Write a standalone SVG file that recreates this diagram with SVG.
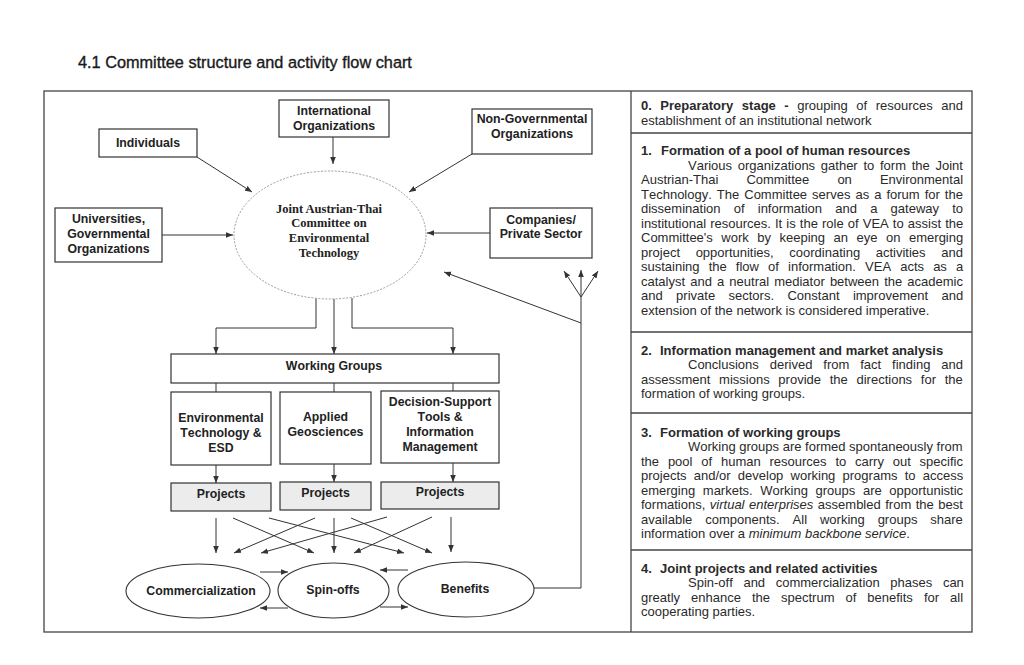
<svg xmlns="http://www.w3.org/2000/svg" width="1024" height="665" viewBox="0 0 1024 665">
<style>
.t{font-family:"Liberation Sans",Arial,sans-serif;fill:#1a1a1a;font-kerning:none}
.nb{font-family:"Liberation Sans",Arial,sans-serif;font-weight:bold;font-size:12.3px;fill:#222;text-anchor:middle;font-kerning:none}
.sr{font-family:"Liberation Serif","Times New Roman",serif;font-weight:bold;font-size:12.5px;fill:#222;text-anchor:middle}
.p{font-family:"Liberation Sans",Arial,sans-serif;font-size:13px;fill:#2a2a2a;font-kerning:none}
.h{font-weight:bold}
.box{fill:#fff;stroke:#333;stroke-width:1.2}
.proj{fill:#ececec;stroke:#333;stroke-width:1.2}
.ell{fill:#fff;stroke:#333;stroke-width:1.1}
.frame{fill:none;stroke:#444;stroke-width:1.3}
.c{fill:none;stroke:#333;stroke-width:1}
.ca{fill:none;stroke:#333;stroke-width:1;marker-end:url(#ah)}
</style>
<defs>
<marker id="ah" viewBox="0 0 10 10" refX="10" refY="5" markerWidth="7" markerHeight="7" markerUnits="userSpaceOnUse" orient="auto">
<path d="M0,1 L10,5 L0,9 z" fill="#333"/>
</marker>
</defs>
<rect width="1024" height="665" fill="#fff"/>
<text class="t" x="78" y="68" font-size="16.3" stroke="#1a1a1a" stroke-width="0.35">4.1 Committee structure and activity flow chart</text>

<g id="frame">
<rect class="frame" x="44" y="91" width="928" height="541"/>
<line class="frame" x1="631" y1="91" x2="631" y2="632"/>
<line class="frame" x1="631" y1="133" x2="972" y2="133"/>
<line class="frame" x1="631" y1="332" x2="972" y2="332"/>
<line class="frame" x1="631" y1="413" x2="972" y2="413"/>
<line class="frame" x1="631" y1="550" x2="972" y2="550"/>
</g>

<g id="connectors">
<line class="ca" x1="197" y1="157" x2="252" y2="192"/>
<line class="ca" x1="333" y1="137" x2="333" y2="164"/>
<line class="ca" x1="472" y1="154" x2="409" y2="192"/>
<line class="ca" x1="162" y1="235" x2="233" y2="235"/>
<line class="ca" x1="490" y1="233" x2="427" y2="233"/>
<line class="ca" x1="581" y1="323" x2="444" y2="272"/>
<polyline class="c" points="534,588 581,588 581,297"/>
<line class="ca" x1="581" y1="297" x2="564" y2="271"/>
<line class="ca" x1="581" y1="297" x2="581" y2="270"/>
<line class="ca" x1="581" y1="297" x2="598" y2="271"/>
<polyline class="ca" points="316,298 316,328 216,328 216,354"/>
<line class="ca" x1="334" y1="299" x2="334" y2="354"/>
<polyline class="ca" points="352,298 352,328 453,328 453,354"/>
<line class="c" x1="216" y1="383" x2="216" y2="392"/>
<line class="c" x1="334" y1="383" x2="334" y2="392"/>
<line class="c" x1="453" y1="383" x2="453" y2="392"/>
<line class="ca" x1="216" y1="465" x2="216" y2="483"/>
<line class="ca" x1="334" y1="464" x2="334" y2="482"/>
<line class="ca" x1="453" y1="463" x2="453" y2="482"/>
<line class="ca" x1="216" y1="518" x2="216" y2="553"/>
<line class="ca" x1="233" y1="518" x2="314" y2="553"/>
<line class="ca" x1="269" y1="518" x2="404" y2="553"/>
<line class="ca" x1="315" y1="518" x2="234" y2="553"/>
<line class="ca" x1="334" y1="518" x2="334" y2="553"/>
<line class="ca" x1="387" y1="517" x2="261" y2="553"/>
<line class="ca" x1="432" y1="517" x2="354" y2="553"/>
<line class="ca" x1="351" y1="518" x2="432" y2="553"/>
<line class="ca" x1="451" y1="517" x2="451" y2="552"/>
<line class="ca" x1="260" y1="572" x2="288" y2="572"/>
<line class="ca" x1="288" y1="608" x2="260" y2="608"/>
<line class="ca" x1="408" y1="570" x2="380" y2="570"/>
<line class="ca" x1="380" y1="607" x2="408" y2="607"/>
</g>

<g id="individuals">
<rect class="box" x="99" y="129" width="98" height="28"/>
<text class="nb" x="148" y="147">Individuals</text>
</g>
<g id="international">
<rect class="box" x="279" y="100" width="110" height="37"/>
<text class="nb" x="334" y="114.5">International</text>
<text class="nb" x="334" y="129.5">Organizations</text>
</g>
<g id="ngo">
<rect class="box" x="472" y="109" width="120" height="45"/>
<text class="nb" x="532" y="122.7">Non-Governmental</text>
<text class="nb" x="532" y="137.7">Organizations</text>
</g>
<g id="universities">
<rect class="box" x="55" y="208" width="107" height="54"/>
<text class="nb" x="108.5" y="222.5">Universities,</text>
<text class="nb" x="108.5" y="237.5">Governmental</text>
<text class="nb" x="108.5" y="252.5">Organizations</text>
</g>
<g id="companies">
<rect class="box" x="490" y="208" width="102" height="50"/>
<text class="nb" x="541" y="223.5">Companies/</text>
<text class="nb" x="541" y="238">Private Sector</text>
</g>
<g id="committee">
<ellipse cx="330" cy="235" rx="96" ry="64" fill="#fff" stroke="#9a9a9a" stroke-width="1" stroke-dasharray="2 1.5"/>
<text class="sr" x="329" y="212.5">Joint Austrian-Thai</text>
<text class="sr" x="329" y="226.5">Committee on</text>
<text class="sr" x="329" y="241.5">Environmental</text>
<text class="sr" x="329" y="256.5">Technology</text>
</g>
<g id="working-groups">
<rect class="box" x="171" y="354" width="328" height="29"/>
<text class="nb" x="334" y="369.5">Working Groups</text>
</g>
<g id="env-tech">
<rect class="box" x="171" y="392" width="100" height="73"/>
<text class="nb" x="221" y="421.5">Environmental</text>
<text class="nb" x="221" y="436.5">Technology &amp;</text>
<text class="nb" x="221" y="451.5">ESD</text>
</g>
<g id="geosciences">
<rect class="box" x="280" y="392" width="91" height="72"/>
<text class="nb" x="325.5" y="421">Applied</text>
<text class="nb" x="325.5" y="436">Geosciences</text>
</g>
<g id="decision-support">
<rect class="box" x="381" y="391" width="118" height="72"/>
<text class="nb" x="440" y="405.5">Decision-Support</text>
<text class="nb" x="440" y="420.5">Tools &amp;</text>
<text class="nb" x="440" y="435.5">Information</text>
<text class="nb" x="440" y="450.5">Management</text>
</g>
<g id="projects-1">
<rect class="proj" x="171" y="483" width="100" height="28"/>
<text class="nb" x="221" y="497.5">Projects</text>
</g>
<g id="projects-2">
<rect class="proj" x="280" y="482" width="91" height="28"/>
<text class="nb" x="325.5" y="496.5">Projects</text>
</g>
<g id="projects-3">
<rect class="proj" x="381" y="482" width="118" height="27"/>
<text class="nb" x="440" y="495.5">Projects</text>
</g>
<g id="commercialization">
<ellipse class="ell" cx="198" cy="591" rx="72" ry="27"/>
<text class="nb" x="201" y="595.3">Commercialization</text>
</g>
<g id="spin-offs">
<ellipse class="ell" cx="333.5" cy="590.5" rx="55.5" ry="27.5"/>
<text class="nb" x="333" y="593.5">Spin-offs</text>
</g>
<g id="benefits">
<ellipse class="ell" cx="466" cy="589.5" rx="68" ry="27.5"/>
<text class="nb" x="465" y="592.5">Benefits</text>
</g>

<g id="stage-0">
<text class="p" x="641" y="110" word-spacing="4.9"><tspan class="h">0. Preparatory stage -</tspan> grouping of resources and</text>
<text class="p" x="641" y="124.5">establishment of an institutional network</text>
</g>
<g id="stage-1">
<text class="p h" x="641" y="155">1.<tspan x="661">Formation of a pool of human resources</tspan></text>
<text class="p" x="688" y="169.5" word-spacing="2.1">Various organizations gather to form the Joint</text>
<text class="p" x="641" y="184" word-spacing="24.5">Austrian-Thai Committee on Environmental</text>
<text class="p" x="641" y="198.5" word-spacing="1.4">Technology. The Committee serves as a forum for the</text>
<text class="p" x="641" y="213" word-spacing="9.6">dissemination of information and a gateway to</text>
<text class="p" x="641" y="227.5" word-spacing="0.5">institutional resources. It is the role of VEA to assist the</text>
<text class="p" x="641" y="242" word-spacing="4.9">Committee's work by keeping an eye on emerging</text>
<text class="p" x="641" y="256.5" word-spacing="12">project opportunities, coordinating activities and</text>
<text class="p" x="641" y="271" word-spacing="5.5">sustaining the flow of information. VEA acts as a</text>
<text class="p" x="641" y="285.5" word-spacing="1.5">catalyst and a neutral mediator between the academic</text>
<text class="p" x="641" y="300" word-spacing="9.8">and private sectors. Constant improvement and</text>
<text class="p" x="641" y="314.5">extension of the network is considered imperative.</text>
</g>
<g id="stage-2">
<text class="p h" x="641" y="354.5">2.<tspan x="660">Information management and market analysis</tspan></text>
<text class="p" x="688" y="369" word-spacing="7.3">Conclusions derived from fact finding and</text>
<text class="p" x="641" y="383.5" word-spacing="5.1">assessment missions provide the directions for the</text>
<text class="p" x="641" y="398">formation of working groups.</text>
</g>
<g id="stage-3">
<text class="p h" x="641" y="436.5">3.<tspan x="660">Formation of working groups</tspan></text>
<text class="p" x="688" y="451">Working groups are formed spontaneously from</text>
<text class="p" x="641" y="465.5" word-spacing="5.2">the pool of human resources to carry out specific</text>
<text class="p" x="641" y="480" word-spacing="3.6">projects and/or develop working programs to access</text>
<text class="p" x="641" y="494.5" word-spacing="4">emerging markets. Working groups are opportunistic</text>
<text class="p" x="641" y="509" word-spacing="0.9">formations, <tspan font-style="italic">virtual enterprises</tspan> assembled from the best</text>
<text class="p" x="641" y="523.5" word-spacing="9.3">available components. All working groups share</text>
<text class="p" x="641" y="538">information over a <tspan font-style="italic">minimum backbone service</tspan>.</text>
</g>
<g id="stage-4">
<text class="p h" x="641" y="572.5">4.<tspan x="660">Joint projects and related activities</tspan></text>
<text class="p" x="688" y="587" word-spacing="7">Spin-off and commercialization phases can</text>
<text class="p" x="641" y="601.5" word-spacing="7.4">greatly enhance the spectrum of benefits for all</text>
<text class="p" x="641" y="616">cooperating parties.</text>
</g>
</svg>
